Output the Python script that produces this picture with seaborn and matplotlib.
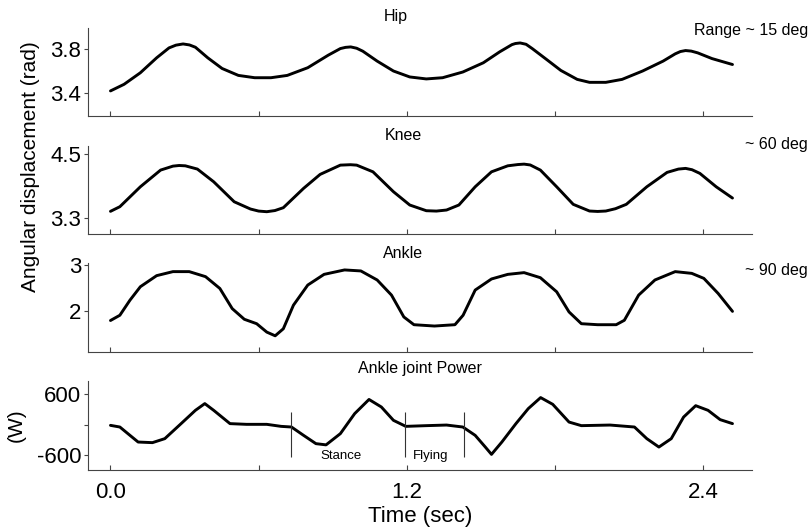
import numpy as np
import pandas as pd
import matplotlib
matplotlib.use("Agg")
import matplotlib.pyplot as plt
import seaborn as sns

# ---- joint angle traces (time in s, angle in rad) ----
hip_t = [0.000, 0.055, 0.121, 0.187, 0.237, 0.265, 0.294, 0.320, 0.344, 0.394,
         0.452, 0.518, 0.584, 0.650, 0.716, 0.799, 0.882, 0.931, 0.952, 0.973,
         0.997, 1.022, 1.080, 1.146, 1.212, 1.279, 1.345, 1.427, 1.510, 1.576,
         1.626, 1.640, 1.659, 1.683, 1.708, 1.766, 1.824, 1.890, 1.940, 2.006,
         2.072, 2.155, 2.238, 2.287, 2.308, 2.329, 2.352, 2.378, 2.436, 2.519]
hip_v = [3.418, 3.478, 3.583, 3.719, 3.809, 3.834, 3.845, 3.836, 3.815, 3.719,
         3.622, 3.559, 3.538, 3.538, 3.559, 3.629, 3.743, 3.803, 3.814, 3.818,
         3.806, 3.779, 3.689, 3.599, 3.545, 3.527, 3.538, 3.590, 3.674, 3.773,
         3.839, 3.849, 3.854, 3.842, 3.803, 3.704, 3.604, 3.523, 3.496, 3.496,
         3.523, 3.599, 3.689, 3.755, 3.776, 3.785, 3.780, 3.764, 3.712, 3.658]

knee_t = [0.000, 0.038, 0.121, 0.203, 0.253, 0.278, 0.303, 0.352, 0.418, 0.501,
          0.567, 0.600, 0.633, 0.666, 0.700, 0.782, 0.849, 0.931, 0.972, 0.997,
          1.063, 1.146, 1.212, 1.279, 1.320, 1.361, 1.411, 1.477, 1.543, 1.609,
          1.650, 1.675, 1.700, 1.741, 1.807, 1.874, 1.940, 1.973, 2.006, 2.045,
          2.089, 2.172, 2.254, 2.300, 2.329, 2.355, 2.387, 2.453, 2.519]
knee_v = [3.420, 3.508, 3.886, 4.203, 4.278, 4.290, 4.284, 4.222, 3.981, 3.602,
          3.464, 3.425, 3.413, 3.435, 3.489, 3.856, 4.121, 4.297, 4.305, 4.297,
          4.170, 3.792, 3.540, 3.432, 3.425, 3.445, 3.540, 3.886, 4.170, 4.284,
          4.308, 4.316, 4.300, 4.203, 3.886, 3.553, 3.426, 3.418, 3.426, 3.470,
          3.553, 3.886, 4.159, 4.222, 4.235, 4.210, 4.140, 3.886, 3.672]

ankle_t = [0.000, 0.038, 0.079, 0.121, 0.187, 0.253, 0.319, 0.385, 0.443, 0.493,
           0.542, 0.592, 0.633, 0.667, 0.700, 0.741, 0.799, 0.865, 0.948, 1.014,
           1.080, 1.138, 1.188, 1.229, 1.312, 1.395, 1.428, 1.477, 1.543, 1.609,
           1.675, 1.741, 1.807, 1.857, 1.907, 1.973, 2.048, 2.081, 2.139, 2.205,
           2.287, 2.354, 2.403, 2.461, 2.519]
ankle_v = [1.790, 1.905, 2.236, 2.530, 2.773, 2.861, 2.861, 2.751, 2.492, 2.051,
           1.817, 1.720, 1.536, 1.455, 1.609, 2.126, 2.567, 2.801, 2.898, 2.876,
           2.678, 2.347, 1.868, 1.698, 1.669, 1.698, 1.905, 2.457, 2.700, 2.801,
           2.839, 2.728, 2.419, 1.978, 1.720, 1.698, 1.698, 1.795, 2.347, 2.678,
           2.861, 2.823, 2.713, 2.382, 1.990]

# ---- ankle joint power (W) ----
power_t = [0.000, 0.038, 0.079, 0.112, 0.170, 0.220, 0.286, 0.344, 0.382, 0.418,
           0.484, 0.551, 0.633, 0.691, 0.733, 0.782, 0.832, 0.873, 0.931, 0.989,
           1.047, 1.097, 1.146, 1.196, 1.279, 1.361, 1.427, 1.477, 1.518, 1.543,
           1.585, 1.642, 1.692, 1.742, 1.791, 1.857, 1.907, 2.023, 2.122, 2.172,
           2.221, 2.271, 2.321, 2.370, 2.420, 2.469, 2.519]
power_v = [-14, -47, -212, -344, -356, -277, 20, 283, 416, 283,
           20, 6, 6, -34, -47, -212, -376, -400, -178, 218,
           498, 349, 85, -34, -20, -8, -47, -212, -443, -588,
           -344, 20, 317, 535, 402, 51, -20, -8, -47, -277,
           -443, -277, 150, 375, 283, 99, 20]

# gait phase markers on the power trace
phase_lines = [0.733, 1.194, 1.433]
phase_names = ["Stance", "Flying"]
phase_label_t = [0.934, 1.297]

panel_titles = ["Hip", "Knee", "Ankle", "Ankle joint Power"]
range_notes = ["Range ~ 15 deg", "~ 60 deg", "~ 90 deg"]

y_ticks = [[3.4, 3.8], [3.3, 4.5], [2, 3], [-600, 0, 600]]
y_ticklabels = [["3.4", "3.8"], ["3.3", "4.5"], ["2", "3"], ["-600", "", "600"]]
y_limits = [(3.19, 3.99), (2.99, 4.66), (1.10, 3.05), (-897, 863)]

x_ticks = [0.0, 0.6, 1.2, 1.8, 2.4]
x_ticklabels = ["0.0", "", "1.2", "", "2.4"]

sns.set_theme(style="ticks")
plt.rcParams["font.family"] = ["Liberation Sans", "DejaVu Sans"]
plt.rcParams["text.color"] = "black"
plt.rcParams["xtick.labelcolor"] = "black"
plt.rcParams["ytick.labelcolor"] = "black"
plt.rcParams["axes.labelcolor"] = "black"

W, H = 812, 530
fig = plt.figure(figsize=(W / 100, H / 100), dpi=100)

# panel extents in pixels (top, bottom)
panel_px = [(28, 116), (146, 234), (263, 352), (381, 470)]
left_px, right_px = 88, 752

series = [(hip_t, hip_v), (knee_t, knee_v), (ankle_t, ankle_v), (power_t, power_v)]
axes = []
for i, ((top, bot), (tt, vv)) in enumerate(zip(panel_px, series)):
    ax = fig.add_axes([left_px / W, 1 - bot / H, (right_px - left_px) / W, (bot - top) / H])
    df = pd.DataFrame({"t": tt, "v": vv})
    sns.lineplot(data=df, x="t", y="v", ax=ax, color="black", lw=2.1,
                 solid_joinstyle="round", solid_capstyle="round")
    ax.set_xlim(-0.091, 2.598)
    ax.set_ylim(*y_limits[i])
    ax.set_xticks(x_ticks)
    ax.set_yticks(y_ticks[i])
    ax.set_yticklabels(y_ticklabels[i])
    ax.set_xlabel("")
    ax.set_ylabel("")
    sns.despine(ax=ax)
    for s in ("left", "bottom"):
        ax.spines[s].set_color("#444444")
        ax.spines[s].set_linewidth(0.8)
    ax.tick_params(axis="x", direction="in", length=3.5, width=0.8, color="#444444",
                   labelsize=16, pad=9, labelcolor="black")
    ax.tick_params(axis="y", direction="out", length=3, width=0.8, color="#444444",
                   labelsize=16, pad=2, labelcolor="black")
    if i < 3:
        ax.set_xticklabels([])
    else:
        ax.set_xticklabels(x_ticklabels)
    axes.append(ax)

# panel titles
title_pos = [(396, 17), (403, 135), (403, 253), (420, 368)]
for txt, (px, py) in zip(panel_titles, title_pos):
    fig.text(px / W, 1 - py / H, txt, ha="center", va="center", fontsize=11.5, color="black")

# range annotations at right
note_y = [30, 145, 270]
for txt, py in zip(range_notes, note_y):
    fig.text(808 / W, 1 - py / H, txt, ha="right", va="center", fontsize=11.5, color="black")

# stance / flying markers
pax = axes[3]
for xv in phase_lines:
    pax.vlines(xv, -641, 250, color="#333333", lw=0.8)
for name, xv in zip(phase_names, phase_label_t):
    pax.text(xv, -628, name, ha="center", va="center", fontsize=9.5, color="black")

pax.set_xlabel("Time (sec)", fontsize=16, labelpad=2, color="black")

fig.text(31 / W, 1 - 167 / H, "Angular displacement (rad)", rotation=90,
         ha="center", va="center", fontsize=15, color="black")
fig.text(16 / W, 1 - 425 / H, "(W)", rotation=90, ha="center", va="center",
         fontsize=15, color="black")

fig.savefig("out.png", dpi=100, facecolor="white")
